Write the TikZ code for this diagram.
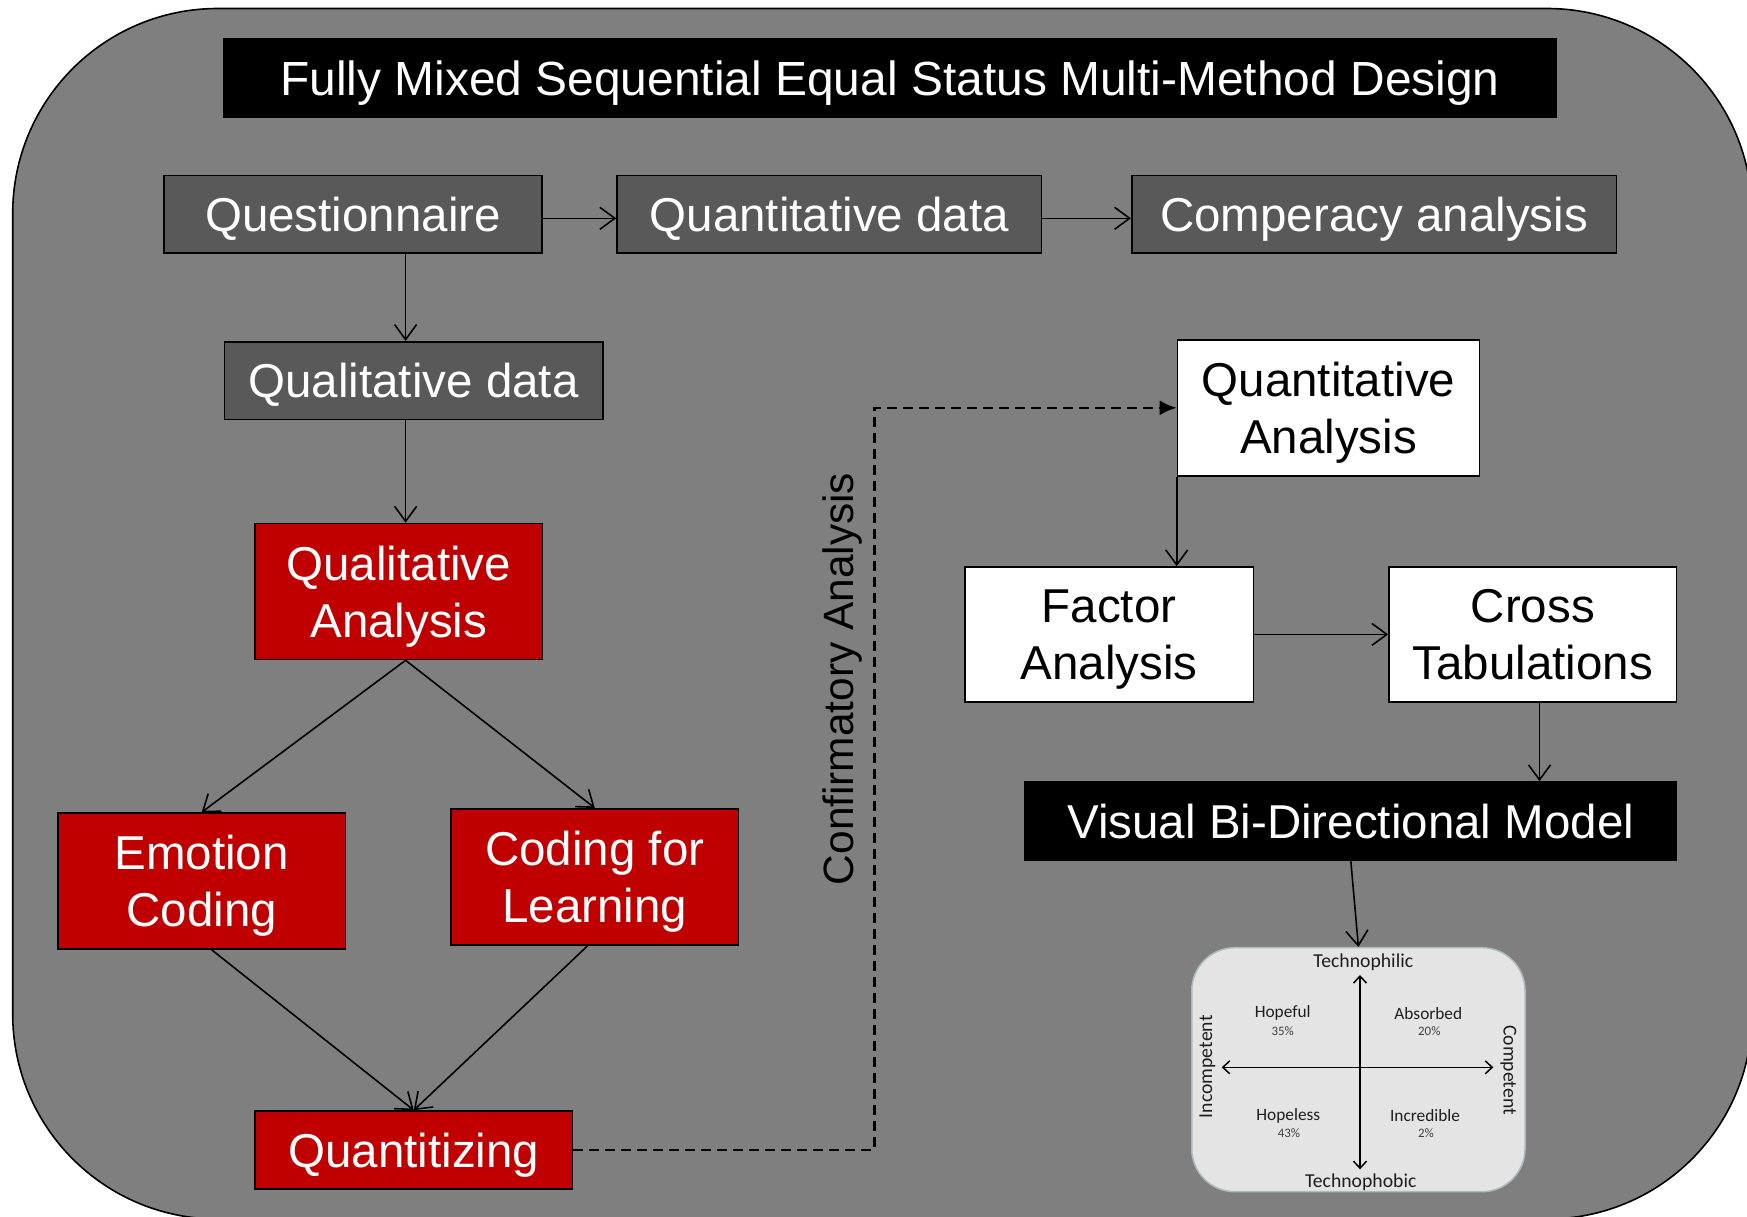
\documentclass[tikz,border=0pt]{standalone}
\usepackage{fontspec}
\setmainfont{Liberation Sans}
\newfontfamily\quadfont{Carlito}
\usetikzlibrary{arrows.meta}
\definecolor{outergray}{HTML}{7F7F7F}
\definecolor{darkboxc}{HTML}{595959}
\definecolor{redboxc}{HTML}{C00000}
\definecolor{quadbg}{HTML}{E4E4E4}
\definecolor{quadedge}{HTML}{A9BCBF}
\definecolor{quadtext}{HTML}{1E1E1E}
\definecolor{pcttext}{HTML}{404040}
\tikzset{
  basebox/.style={draw=black, line width=1.6pt, inner sep=0pt, align=center, text=white,
    text depth=0pt, font=\fontsize{47.5}{57}\selectfont},
  darkbox/.style={basebox, fill=darkboxc},
  redbox/.style={basebox, fill=redboxc},
  whitebox/.style={basebox, fill=white, text=black},
  blackbox/.style={basebox, fill=black, draw=black},
  arr/.style={line width=1.6pt, -{Straight Barb[length=15pt,width=22pt]}},
  dasharr/.style={line width=2.6pt, dash pattern=on 10pt off 6pt, -{Latex[length=17pt,width=15pt]}},
  qarr/.style={line width=1.5pt, {Straight Barb[length=7pt,width=13pt]}-{Straight Barb[length=7pt,width=13pt]}},
  qaxis/.style={font=\quadfont\fontsize{19.7}{22}\selectfont, text=quadtext, inner sep=0pt},
  qname/.style={font=\quadfont\fontsize{17.3}{19}\selectfont, text=quadtext, inner sep=0pt},
  qpct/.style={font=\quadfont\fontsize{12.9}{14}\selectfont, text=pcttext, inner sep=0pt}
}
\begin{document}
\begin{tikzpicture}[x=1pt, y=-1pt]
\useasboundingbox (0,0) rectangle (1747,1217);
\fill[white] (0,0) rectangle (1747,1217);
% outer frame
\draw[fill=outergray, line width=1.6pt, rounded corners=205pt] (12.7,8.5) rectangle (1752,1219);

% title
\node[blackbox, minimum width=1332pt, minimum height=78.5pt, font=\fontsize{47.9}{57}\selectfont] (T) at (890,78.2)
  {Fully Mixed Sequential Equal Status Multi-Method Design};

% top row
\node[darkbox, minimum width=378.3pt, minimum height=77.3pt] (Q) at (353,214.3) {Questionnaire};
\node[darkbox, minimum width=424.6pt, minimum height=77.3pt] (QD) at (829.3,214.3) {Quantitative data};
\node[darkbox, minimum width=484.7pt, minimum height=77.3pt] (CO) at (1374.1,214.3) {Comperacy analysis};
\node[darkbox, minimum width=378.4pt, minimum height=77.6pt] (Qd) at (413.5,380.5) {Qualitative data};

% red boxes
\node[redbox, minimum width=287.5pt, minimum height=136pt] (QA) at (398.8,591.5) {Qualitative\\Analysis};
\node[redbox, minimum width=287.3pt, minimum height=136pt] (EC) at (201.7,881) {Emotion\\Coding};
\node[redbox, minimum width=287.6pt, minimum height=136pt] (CL) at (594.8,876.8) {Coding for\\Learning};
\node[redbox, minimum width=317.6pt, minimum height=78pt] (QZ) at (413.8,1150) {Quantitizing};

% white boxes
\node[whitebox, minimum width=302pt, minimum height=136pt] (QN) at (1328.5,407.8) {Quantitative\\Analysis};
\node[whitebox, minimum width=288.6pt, minimum height=134.8pt] (FA) at (1109,634.4) {Factor\\Analysis};
\node[whitebox, minimum width=287.6pt, minimum height=134.8pt] (CT) at (1532.8,634.4) {Cross\\Tabulations};
\node[blackbox, minimum width=651.6pt, minimum height=78pt] (VB) at (1350.8,821) {Visual Bi-Directional Model};

% confirmatory label
\node[rotate=90, inner sep=0pt, font=\fontsize{42.4}{50}\selectfont, text=black] (CA) at (843,679) {Confirmatory Analysis};

% quadrant model
\node[draw=quadedge, fill=quadbg, rounded corners=43pt, line width=1.5pt,
  minimum width=333.3pt, minimum height=244pt, inner sep=0pt] (QM) at (1358.4,1069.7) {};
\coordinate (vt) at (1360,975);
\coordinate (vb) at (1360,1169.3);
\coordinate (hl) at (1221.7,1067.3);
\coordinate (hr) at (1493.3,1067.3);
\draw[qarr] (vb) -- (vt);
\draw[qarr] (hl) -- (hr);
\node[qaxis] (tphil) at (1363.3,962.3) {Technophilic};
\node[qaxis] (tphob) at (1360.7,1182.7) {Technophobic};
\node[qaxis, rotate=90] (incomp) at (1207.3,1066.7) {Incompetent};
\node[qaxis, rotate=-90] (comp) at (1508.3,1070) {Competent};
\node[qname] (hopeful) at (1282.7,1013.3) {Hopeful};
\node[qpct] (p35) at (1282.7,1031) {35\%};
\node[qname] (absorbed) at (1428.3,1013.3) {Absorbed};
\node[qpct] (p20) at (1429.3,1031) {20\%};
\node[qname] (hopeless) at (1288.3,1116) {Hopeless};
\node[qpct] (p43) at (1289,1133.3) {43\%};
\node[qname] (incred) at (1425,1116) {Incredible};
\node[qpct] (p2) at (1426,1133.3) {2\%};

% connectors
\coordinate (c1) at (405.6,0);
\coordinate (c2) at (874.5,0);
\coordinate (c3) at (1539.5,0);
\draw[arr] ([yshift=-4pt]Q.east) -- ([yshift=-4pt]QD.west);
\draw[arr] ([yshift=-4pt]QD.east) -- ([yshift=-4pt]CO.west);
\draw[arr] (Q.south -| c1) -- (Qd.north -| c1);
\draw[arr] (Qd.south -| c1) -- (QA.north -| c1);
\draw[arr] (QA.south -| c1) -- (EC.north);
\draw[arr] (QA.south -| c1) -- (CL.north);
\draw[arr] ([xshift=10pt]EC.south) -- (QZ.north);
\draw[arr] ([xshift=-7pt]CL.south) -- (QZ.north);
\draw[dasharr] (QZ.east) -| (c2 |- QN.west) -- (QN.west);
\draw[arr] (QN.south west) -- (FA.north -| QN.south west);
\draw[arr] (FA.east) -- (CT.west);
\draw[arr] (CT.south -| c3) -- (VB.north -| c3);
\draw[arr] (VB.south) -- (QM.north);
\end{tikzpicture}
\end{document}
